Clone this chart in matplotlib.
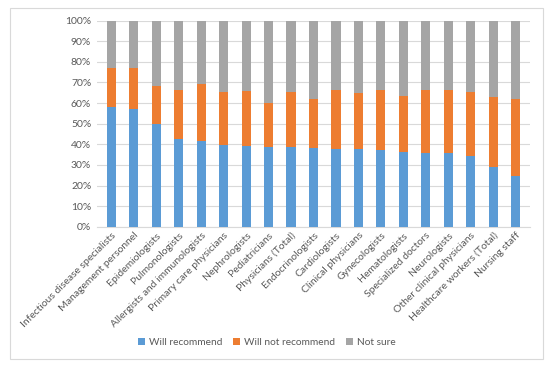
import matplotlib
matplotlib.use("Agg")
import matplotlib.pyplot as plt
from matplotlib.patches import Rectangle
import numpy as np

categories = ["Infectious disease specialists", "Management personnel", "Epidemiologists",
              "Pulmonologists", "Allergists and immunologists", "Primary care physicians",
              "Nephrologists", "Pediatricians", "Physicians (Total)", "Endocrinologists",
              "Cardiologists", "Clinical physicians", "Gynecologists", "Hematologists",
              "Specialized doctors", "Neurologists", "Other clinical physicians",
              "Healthcare workers (Total)", "Nursing staff"]
will_recommend = [57.9, 57.0, 50.0, 42.7, 41.6, 39.8, 39.2, 38.7, 38.5, 38.2,
                  37.7, 37.5, 37.4, 36.4, 35.6, 35.6, 34.3, 29.1, 24.6]
cumulative_not_recommend = [77.0, 77.0, 68.4, 66.2, 69.1, 65.4, 65.7, 59.9, 65.2, 61.8,
                            66.5, 64.7, 66.2, 63.4, 66.2, 66.5, 65.4, 63.1, 62.1]
will_not_recommend = [c - w for c, w in zip(cumulative_not_recommend, will_recommend)]
not_sure = [100 - c for c in cumulative_not_recommend]
series_names = ["Will recommend", "Will not recommend", "Not sure"]
colors = ["#5B9BD5", "#ED7D31", "#A5A5A5"]

plt.rcParams['font.family'] = ['Lato', 'DejaVu Sans']
fig = plt.figure(figsize=(5.5, 3.67), dpi=100)
fig.patches.append(Rectangle((0.018, 0.022), 0.969, 0.956, transform=fig.transFigure,
                             fill=False, edgecolor="#D9D9D9", linewidth=0.8))
ax = fig.add_axes([0.176, 0.382, 0.788, 0.562])

x = np.arange(len(categories))
w = 0.41
ax.bar(x, will_recommend, w, color=colors[0], label=series_names[0], zorder=3)
ax.bar(x, will_not_recommend, w, bottom=will_recommend, color=colors[1], label=series_names[1], zorder=3)
ax.bar(x, not_sure, w, bottom=cumulative_not_recommend, color=colors[2], label=series_names[2], zorder=3)

ax.set_ylim(0, 100)
ax.set_xlim(-0.65, len(categories) - 0.35)
ax.set_yticks(np.arange(0, 101, 10))
ax.set_yticklabels([f"{v}%" for v in range(0, 101, 10)])
ax.yaxis.grid(True, color="#D9D9D9", linewidth=0.8, zorder=0)
ax.set_xticks(x)
ax.set_xticklabels(categories, rotation=45, ha="right", rotation_mode="anchor")
ax.tick_params(axis="both", length=0, labelsize=7.5, labelcolor="#595959")
ax.tick_params(axis="y", pad=4)
ax.tick_params(axis="x", pad=3)
for s in ["top", "right", "left"]:
    ax.spines[s].set_visible(False)
ax.spines["bottom"].set_color("#D9D9D9")

leg = fig.legend(loc="center", bbox_to_anchor=(0.485, 0.066), ncol=3, frameon=False,
                 fontsize=7.3, handlelength=0.7, handleheight=0.7, columnspacing=1.1,
                 handletextpad=0.35)
for t in leg.get_texts():
    t.set_color("#595959")

fig.savefig("out.png", dpi=100)
